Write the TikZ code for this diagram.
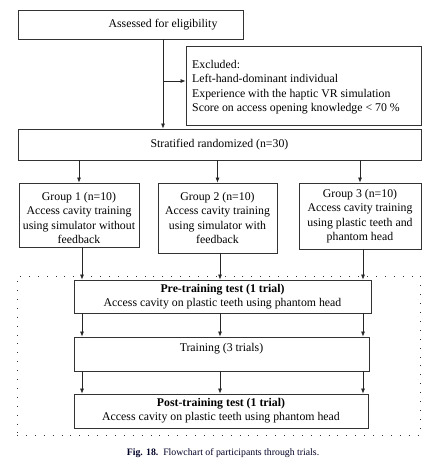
\documentclass[tikz,border=0pt]{standalone}
\usepackage{fontspec}
\setmainfont{Liberation Serif}
\usetikzlibrary{arrows.meta,calc}
\begin{document}
\begin{tikzpicture}[x=1pt,y=-1pt,
  box/.style={draw=black!80,line width=0.8pt,rectangle,inner sep=1pt,font=\fontsize{11.8}{14.5}\selectfont},
  txt/.style={inner sep=0pt,font=\fontsize{11.8}{14.5}\selectfont},
  arr/.style={-{Latex[length=5pt,width=4pt]},line width=0.7pt,black!85},
  ln/.style={line width=0.7pt,black!85}]
\useasboundingbox (0,0) rectangle (436,471);
% top
\node[box,minimum width=225pt,minimum height=29pt] (assess) at (130.5,24.5) {};
\node[txt] (assesst) at (163,24.5) {Assessed for eligibility};
\node[box,minimum width=235pt,minimum height=79pt] (excl) at (303.5,85.5) {};
\node[txt,anchor=west,align=left] (exclt) at (192,87)
  {Excluded:\\Left-hand-dominant individual\\Experience with the haptic VR simulation\\Score on access opening knowledge < 70 \%};
\node[box,minimum width=403pt,minimum height=31pt] (strat) at (219.5,144.5) {Stratified randomized (n=30)};
% groups
\node[box,minimum width=120pt,minimum height=64pt] (g1) at (79,215) {};
\node[txt,align=center] (g1t) at (79,218) {Group 1 (n=10)\\Access cavity training\\using simulator without\\feedback};
\node[box,minimum width=119pt,minimum height=70pt,align=center] (g2) at (217.5,218)
  {Group 2 (n=10)\\Access cavity training\\using simulator with\\feedback};
\node[box,minimum width=122pt,minimum height=66pt,align=center] (g3) at (360,216)
  {Group 3 (n=10)\\Access cavity training\\using plastic teeth and\\phantom head};
% dotted frame
\node[draw=black!80,line width=0.9pt,dash pattern=on 0.9pt off 8pt,minimum width=403pt,minimum height=159pt,inner sep=0pt] (frame) at (218.5,355.5) {};
% lower boxes
\node[box,minimum width=297pt,minimum height=33pt,align=center,font=\fontsize{11.8}{14}\selectfont] (pre) at (222.5,296.5)
  {\textbf{Pre-training test (1 trial)}\\Access cavity on plastic teeth using phantom head};
\node[box,minimum width=295pt,minimum height=34pt] (train) at (221.5,354) {};
\node[txt] (traint) at (221.5,349) {Training (3 trials)};
\node[box,minimum width=294pt,minimum height=34pt,align=center,font=\fontsize{11.8}{14}\selectfont] (post) at (221,411)
  {\textbf{Post-training test (1 trial)}\\Access cavity on plastic teeth using phantom head};
% caption
\node[font=\fontsize{9.8}{11}\selectfont,text=black!85!blue] (cap) at (223,453) {\textbf{Fig. 18.}\ \ Flowchart of participants through trials.};
% connectors
\coordinate (split) at (163,81);
\draw[ln] (assess.south -| split) -- (split);
\draw[arr] (split) -- (split -| excl.west);
\draw[arr] (split) -- (split |- strat.north);
\foreach \g in {g1,g2,g3}{\draw[arr] (strat.south -| \g.north) -- (\g.north);}
\coordinate (c1) at (82,0);
\coordinate (c2) at (220,0);
\coordinate (c3) at (363,0);
\draw[arr] (g1.south -| c1) -- (pre.north -| c1);
\draw[arr] (g2.south -| c2) -- (pre.north -| c2);
\draw[arr] (g3.south -| c3) -- (pre.north -| c3);
\foreach \c in {c1,c2,c3}{
  \draw[arr] (pre.south -| \c) -- (train.north -| \c);
  \draw[arr] (train.south -| \c) -- (post.north -| \c);
}
\end{tikzpicture}
\end{document}
